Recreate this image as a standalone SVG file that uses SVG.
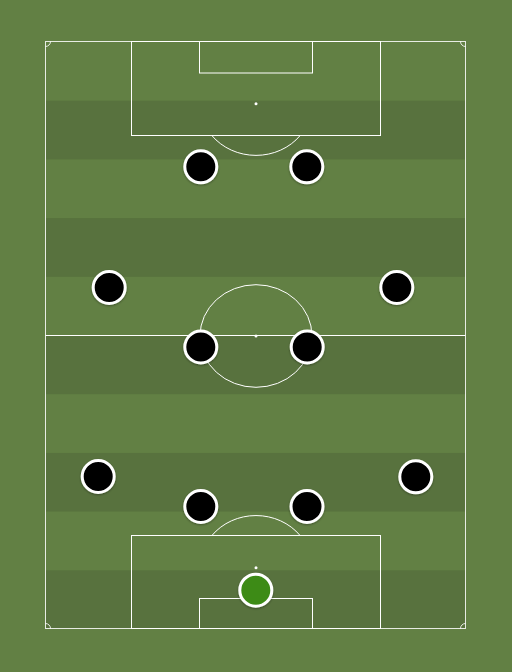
<svg xmlns="http://www.w3.org/2000/svg" width="512" height="672" viewBox="0 0 512 672">
  <defs>
    <style>
      .stripe { fill: #58723e; }
      .line { fill: none; stroke: #ffffff; stroke-width: 1; }
      .outline { fill: none; stroke: #ffffff; stroke-opacity: 0.85; stroke-width: 1; }
      .spot { fill: #ffffff; }
      .player { fill: #000000; stroke: #ffffff; stroke-width: 3; filter: url(#shadow); }
      .keeper { fill: #3d8b17; stroke: #ffffff; stroke-width: 3; filter: url(#shadow); }
    </style>
    <filter id="shadow" x="-30%" y="-30%" width="160%" height="170%">
      <feDropShadow dx="0" dy="1" stdDeviation="0.8" flood-color="#000000" flood-opacity="0.35"/>
    </filter>
  </defs>

  <rect x="0" y="0" width="512" height="672" fill="#628044"/>

  <g id="stripes">
    <rect class="stripe" x="46" y="100.7" width="420" height="58.7"/>
    <rect class="stripe" x="46" y="218.1" width="420" height="58.7"/>
    <rect class="stripe" x="46" y="335.5" width="420" height="58.7"/>
    <rect class="stripe" x="46" y="452.9" width="420" height="58.7"/>
    <rect class="stripe" x="46" y="570.3" width="420" height="58.7"/>
  </g>

  <g id="pitch-lines">
    <rect class="outline" x="45.5" y="41.5" width="420" height="587"/>
    <line class="line" x1="45.5" y1="335.5" x2="465.5" y2="335.5"/>
    <ellipse class="line" cx="256" cy="336" rx="56" ry="51.3"/>
    <circle class="spot" cx="256" cy="336" r="1.5"/>

    <rect class="line" x="131.5" y="41.5" width="249" height="94"/>
    <rect class="line" x="199.5" y="41.5" width="113" height="31.5"/>
    <circle class="spot" cx="256" cy="103.7" r="1.5"/>
    <path class="line" d="M211.8,135.5 A56,51.5 0 0 0 300.2,135.5"/>

    <rect class="line" x="131.5" y="535.5" width="249" height="93"/>
    <rect class="line" x="199.5" y="598.5" width="113" height="30"/>
    <circle class="spot" cx="256" cy="567.7" r="1.5"/>
    <path class="line" d="M211.9,535.5 A56,52 0 0 1 300.1,535.5"/>

    <path class="outline" d="M50.5,41.5 A5,5 0 0 1 45.5,46.5"/>
    <path class="outline" d="M460.5,41.5 A5,5 0 0 0 465.5,46.5"/>
    <path class="outline" d="M45.5,623.5 A5,5 0 0 1 50.5,628.5"/>
    <path class="outline" d="M465.5,623.5 A5,5 0 0 0 460.5,628.5"/>
  </g>

  <g id="connectors"/>

  <g id="player-1"><circle class="player" cx="200.8" cy="166.8" r="16"/></g>
  <g id="player-2"><circle class="player" cx="306.8" cy="166.8" r="16"/></g>
  <g id="player-3"><circle class="player" cx="109.2" cy="287.5" r="16"/></g>
  <g id="player-4"><circle class="player" cx="396.8" cy="287.5" r="16"/></g>
  <g id="player-5"><circle class="player" cx="200.8" cy="347" r="16"/></g>
  <g id="player-6"><circle class="player" cx="307.2" cy="347" r="16"/></g>
  <g id="player-7"><circle class="player" cx="98.2" cy="476.5" r="16"/></g>
  <g id="player-8"><circle class="player" cx="415.8" cy="476.8" r="16"/></g>
  <g id="player-9"><circle class="player" cx="200.8" cy="506.5" r="16"/></g>
  <g id="player-10"><circle class="player" cx="307" cy="506.5" r="16"/></g>
  <g id="goalkeeper"><circle class="keeper" cx="255.8" cy="590.2" r="16"/></g>
</svg>
